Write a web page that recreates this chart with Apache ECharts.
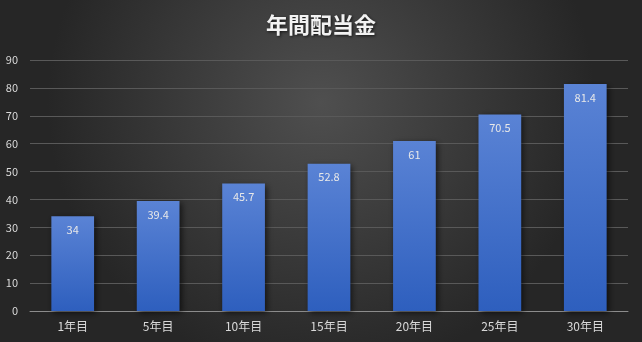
<!DOCTYPE html>
<html><head><meta charset="utf-8">
<script src="https://cdn.jsdelivr.net/npm/echarts@6/dist/echarts.min.js"></script>
<style>html,body{margin:0;padding:0;background:#333}#c{width:642px;height:342px}</style>
</head><body><div id="c"></div>
<script>
const categories = ['1年目','5年目','10年目','15年目','20年目','25年目','30年目'];
const values = [34, 39.4, 45.7, 52.8, 61, 70.5, 81.4];
const yTicks = {min: 0, max: 90, interval: 10};
const chart = echarts.init(document.getElementById('c'));
chart.setOption({
  backgroundColor: {type:'radial', x:0.5, y:0.3, r:0.8, colorStops:[{offset:0,color:'#4f4f4f'},{offset:1,color:'#262626'}]},
  title: {text:'年間配当金', left:'center', top:9, textStyle:{color:'#f2f2f2', fontSize:22, fontWeight:'bold', fontFamily:'Noto Sans CJK JP', textShadowColor:'rgba(0,0,0,0.7)', textShadowBlur:3, textShadowOffsetX:1, textShadowOffsetY:1}},
  grid: {left:30, right:14, top:60, bottom:31, containLabel:false},
  xAxis: {type:'category', data:categories, axisLine:{lineStyle:{color:'#8c8c8c', width:1}}, axisTick:{show:false},
    axisLabel:{color:'#d9d9d9', fontSize:12, fontFamily:'Noto Sans CJK JP', margin:9}},
  yAxis: {type:'value', min:yTicks.min, max:yTicks.max, interval:yTicks.interval,
    axisLine:{show:false}, axisTick:{show:false},
    axisLabel:{color:'#d9d9d9', fontSize:11, fontFamily:'Noto Sans CJK JP', margin:12},
    splitLine:{lineStyle:{color:'#595959', width:1}}},
  series: [{type:'bar', data:values, barWidth:'50%',
    itemStyle:{color:{type:'linear', x:0,y:0,x2:0,y2:1, colorStops:[{offset:0,color:'#5a83d5'},{offset:1,color:'#2e5fbe'}]},
      shadowColor:'rgba(0,0,0,0.6)', shadowBlur:6, shadowOffsetX:2, shadowOffsetY:2},
    label:{show:true, position:'insideTop', distance:8, color:'#e8e8e8', fontSize:11, fontFamily:'Noto Sans CJK JP'}}]
});
</script></body></html>
